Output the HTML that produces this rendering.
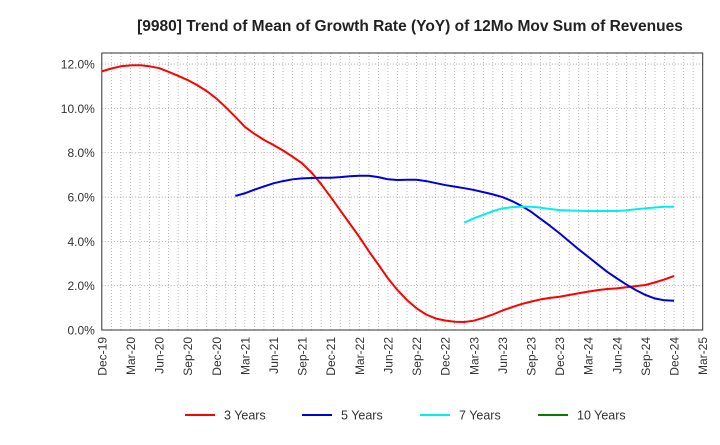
<!DOCTYPE html>
<html><head><meta charset="utf-8"><style>
body{margin:0;background:#fff;font-family:"Liberation Sans",sans-serif}
svg text{font-family:"Liberation Sans",sans-serif}
</style></head><body>
<svg id="chart" width="720" height="440" xmlns="http://www.w3.org/2000/svg">
<text x="410" y="31" text-anchor="middle" font-size="15.5" font-weight="bold" fill="#222">[9980]  Trend of Mean of Growth Rate (YoY) of 12Mo Mov Sum of Revenues</text>
<g id="grid"></g>
<g id="axes"></g>
<g id="series"></g>
<g id="legend"></g>
</svg>
<script>
const xTickLabels=["Dec-19","Mar-20","Jun-20","Sep-20","Dec-20","Mar-21","Jun-21","Sep-21","Dec-21","Mar-22","Jun-22","Sep-22","Dec-22","Mar-23","Jun-23","Sep-23","Dec-23","Mar-24","Jun-24","Sep-24","Dec-24","Mar-25"];
const yTicks=[0,2,4,6,8,10,12];
const years3Start=0;
const years3=[11.67,11.8,11.9,11.94,11.95,11.9,11.82,11.65,11.47,11.28,11.05,10.78,10.45,10.05,9.62,9.17,8.85,8.58,8.35,8.1,7.82,7.52,7.1,6.58,6.0,5.4,4.8,4.2,3.55,2.95,2.33,1.8,1.35,0.98,0.7,0.52,0.43,0.37,0.36,0.42,0.55,0.7,0.88,1.03,1.17,1.28,1.38,1.45,1.5,1.58,1.66,1.73,1.8,1.85,1.88,1.93,1.98,2.03,2.15,2.28,2.44];
const years5Start=14;
const years5=[6.05,6.17,6.33,6.48,6.62,6.72,6.8,6.84,6.86,6.87,6.87,6.9,6.94,6.96,6.96,6.9,6.8,6.77,6.78,6.78,6.72,6.63,6.54,6.47,6.4,6.32,6.22,6.12,6.0,5.82,5.6,5.34,5.02,4.7,4.36,4.0,3.64,3.3,2.96,2.62,2.33,2.05,1.8,1.58,1.42,1.34,1.32];
const years7Start=38;
const years7=[4.84,5.04,5.2,5.36,5.49,5.54,5.57,5.56,5.52,5.46,5.41,5.39,5.38,5.37,5.37,5.37,5.37,5.4,5.45,5.49,5.53,5.56,5.56];
const years10Start=0;
const years10=[];

const NS="http://www.w3.org/2000/svg";
const L=101.8,R=702.7,T=53,B=330,MONTHS=63,YMAX=12.5;
const xS=m=>L+(R-L)*m/MONTHS;
const yS=v=>B-(B-T)*v/YMAX;
function mk(tag,parent,attrs){const e=document.createElementNS(NS,tag);for(const k in attrs)e.setAttribute(k,attrs[k]);parent.appendChild(e);return e;}
const grid=document.getElementById('grid'),axes=document.getElementById('axes'),series=document.getElementById('series'),legend=document.getElementById('legend');
for(let m=1;m<MONTHS;m++){
  const l=mk('line',grid,{x1:xS(m),x2:xS(m),y1:T,y2:B,stroke:'#aaa','stroke-width':0.8,'stroke-dasharray':'1,2'});
  
  
}
yTicks.forEach(v=>{
  if(v>0){const g=mk('line',grid,{x1:L,x2:R,y1:yS(v),y2:yS(v),stroke:'#999','stroke-width':0.8,'stroke-dasharray':'1,2'});
  
  }
  const t=mk('text',axes,{x:L-7,y:yS(v)+4.5,'text-anchor':'end','font-size':12,fill:'#333'});
  t.textContent=v.toFixed(1)+'%';
  
  
});
xTickLabels.forEach((s,i)=>{
  const x=xS(i*3);
  const t=mk('text',axes,{x:0,y:0,'text-anchor':'end','font-size':12,fill:'#333',transform:`translate(${x+4.5},${B+7}) rotate(-90)`});
  t.textContent=s;
  
  
});
const frame=mk('rect',axes,{x:L,y:T,width:R-L,height:B-T,fill:'none',stroke:'#333','stroke-width':1});


function draw(vals,start,color,name){
  if(!vals.length)return;
  const p=mk('polyline',series,{points:vals.map((v,i)=>xS(start+i).toFixed(2)+','+yS(v).toFixed(2)).join(' '),fill:'none',stroke:color,'stroke-width':2,'stroke-linejoin':'round'});
  
  
}
draw(years3,years3Start,'#ff0000','line-3-years');
draw(years5,years5Start,'#0000dd','line-5-years');
draw(years7,years7Start,'#00eeee','line-7-years');
draw(years10,years10Start,'#008000','line-10-years');
const leg=[["3 Years","#ff0000",185],["5 Years","#0000dd",302],["7 Years","#00eeee",420],["10 Years","#008000",538]];
leg.forEach(([s,c,x])=>{
  const g=mk('g',legend,{});
  
  
  mk('line',g,{x1:x,x2:x+30,y1:415,y2:415,stroke:c,'stroke-width':2});
  const t=mk('text',g,{x:x+39,y:419.5,'font-size':12.5,fill:'#333'});
  t.textContent=s;
});
</script>
</body></html>
